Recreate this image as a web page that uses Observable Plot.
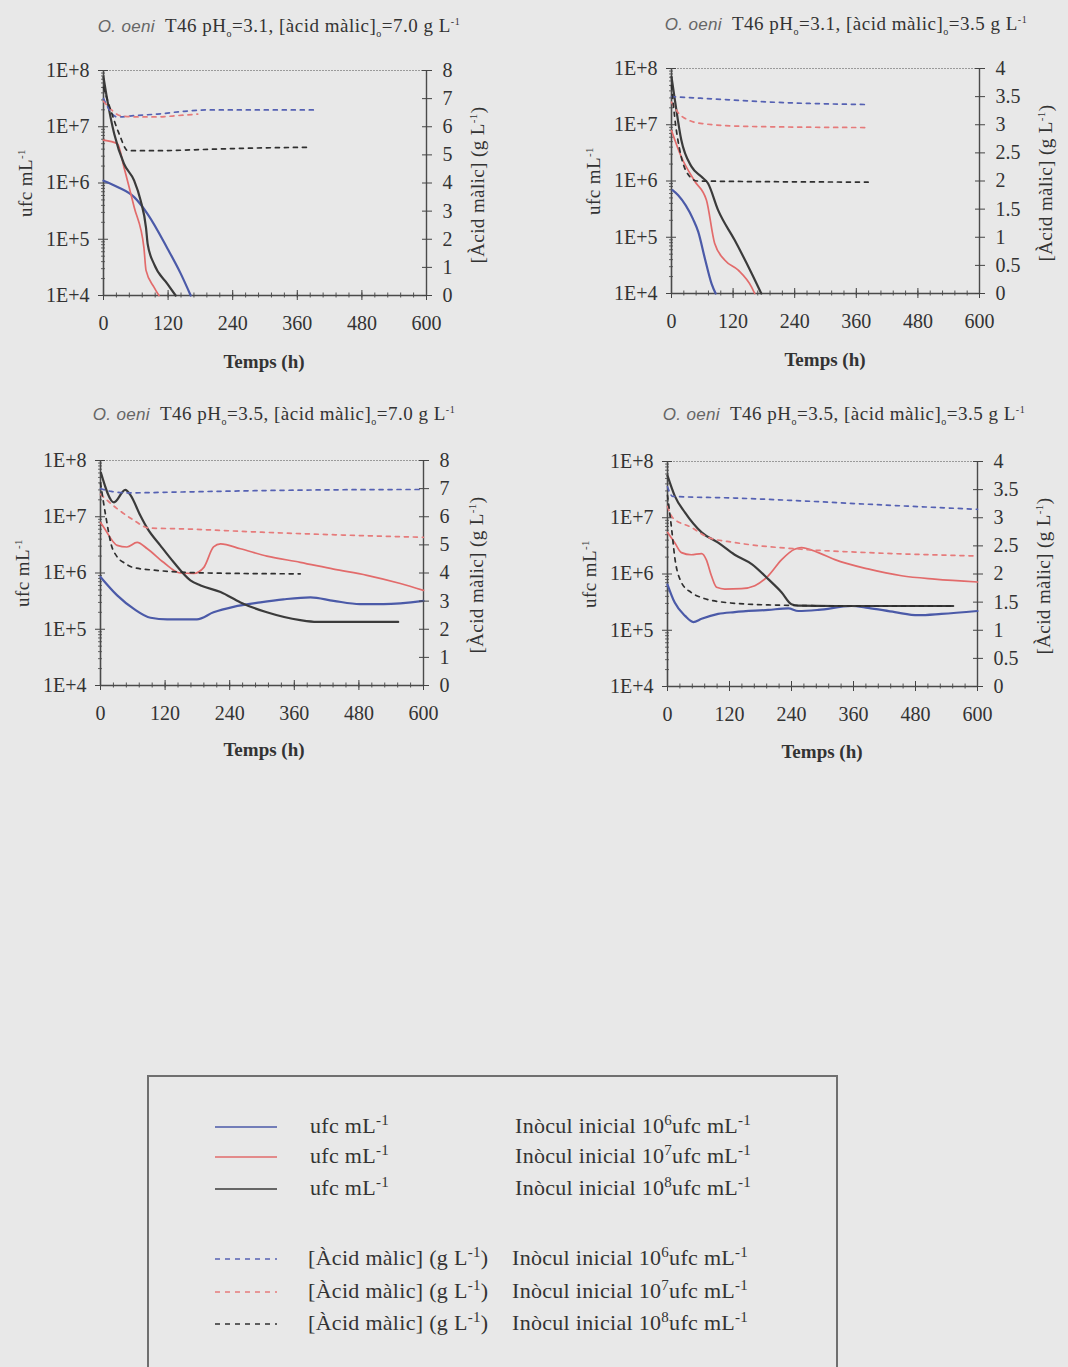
<!DOCTYPE html>
<html><head><meta charset="utf-8">
<script src="https://cdn.jsdelivr.net/npm/d3@7"></script>
<script src="https://cdn.jsdelivr.net/npm/@observablehq/plot@0.6"></script>
<style>
html,body{margin:0;padding:0;background:#e8e8e8;}
#root{position:relative;width:1068px;height:1367px;overflow:hidden;background:#e8e8e8;font-family:"Liberation Serif",serif;color:#333;}
.abs{position:absolute;}
.title{font-size:19px;letter-spacing:0.5px;white-space:nowrap;transform:translate(-50%,-50%);}
.title i{font-family:"Liberation Sans",sans-serif;color:#666;font-size:17px;letter-spacing:0.3px;}
.title sub{font-size:10px;}
.title sup{font-size:10px;}
.ylab{font-size:19px;letter-spacing:0.4px;white-space:nowrap;transform:translate(-50%,-50%) rotate(-90deg);}
.ylab sup{font-size:11px;}
.xlab{font-size:19px;font-weight:bold;white-space:nowrap;transform:translate(-50%,-50%);}
#legend{left:147px;top:1075px;width:687px;height:320px;border:2px solid #6f6f6f;}
.lrow{position:absolute;font-size:22px;white-space:nowrap;letter-spacing:0.3px;transform:translateY(-50%);}
.lrow sup{font-size:15px;vertical-align:0.55em;line-height:0;}
svg{overflow:visible;}
</style>
</head><body><div id="root"></div>
<script>
// ---------------- DATA ----------------
const xTicks = [0, 120, 240, 360, 480, 600];
const ufcTicks = [1e4, 1e5, 1e6, 1e7, 1e8];
const malicTicks8 = [0, 1, 2, 3, 4, 5, 6, 7, 8];
const malicTicks4 = [0, 0.5, 1, 1.5, 2, 2.5, 3, 3.5, 4];

const panelTitles = [
  ["3.1", "7.0"], ["3.1", "3.5"], ["3.5", "7.0"], ["3.5", "3.5"]
];

// Panel 1: pH 3.1, malic 7.0 — ufc mL-1 [t (h), ufc]
const p1UfcBlue  = [[0,1.1e6],[26,8.5e5],[57,5.6e5],[82,2.8e5],[119,6.8e4],[143,2.5e4],[162,1.0e4]];
const p1UfcRed   = [[0,5.8e6],[26,5.0e6],[38,1.9e6],[57,3.7e5],[75,7.2e4],[79,2.8e4],[94,1.4e4],[103,1.0e4]];
const p1UfcBlack = [[0,7.6e7],[7,3.0e7],[20,7.4e6],[38,2.2e6],[57,1.1e6],[69,4.9e5],[79,1.6e5],[82,8.3e4],[94,3.6e4],[119,1.6e4],[134,1.0e4]];
// Panel 1 malic acid [t (h), g L-1]
const p1MalBlue  = [[0,7.0],[25,6.35],[60,6.4],[100,6.45],[150,6.55],[200,6.6],[300,6.6],[390,6.6]];
const p1MalRed   = [[0,6.9],[15,6.6],[30,6.4],[60,6.35],[100,6.35],[140,6.4],[175,6.45]];
const p1MalBlack = [[0,7.4],[15,6.5],[30,5.7],[45,5.15],[100,5.15],[200,5.2],[300,5.25],[385,5.27]];

// Panel 2: pH 3.1, malic 3.5
const p2UfcBlue  = [[2,6.9e5],[13,5.6e5],[42,2.1e5],[52,1.26e5],[65,4.2e4],[78,1.5e4],[86,1.0e4]];
const p2UfcRed   = [[0,7.9e6],[19,2.7e6],[45,1.0e6],[68,4.6e5],[84,7.8e4],[104,3.9e4],[130,2.6e4],[156,1.3e4],[162,1.0e4]];
const p2UfcBlack = [[0,7.1e7],[6.5,2.8e7],[19,5.4e6],[39,1.8e6],[58,1.2e6],[71,9.1e5],[91,3.0e5],[123,8.9e4],[156,2.3e4],[175,1.0e4]];
const p2MalBlue  = [[0,3.5],[100,3.45],[200,3.4],[376,3.36]];
const p2MalRed   = [[0,3.4],[20,3.15],[60,3.02],[150,2.97],[386,2.95]];
const p2MalBlack = [[0,3.7],[8,3.0],[15,2.6],[30,2.15],[50,2.0],[383,1.98]];

// Panel 3: pH 3.5, malic 7.0
const p3UfcBlue  = [[0,8.5e5],[31,4.0e5],[62,2.3e5],[93,1.6e5],[124,1.5e5],[179,1.5e5],[210,2.0e5],[247,2.5e5],[297,3.0e5],[340,3.4e5],[390,3.7e5],[433,3.2e5],[482,2.8e5],[526,2.8e5],[600,3.2e5]];
const p3UfcRed   = [[0,7.9e6],[6,6.5e6],[31,3.1e6],[49,2.9e6],[68,3.5e6],[87,2.7e6],[117,1.55e6],[148,1.0e6],[173,9.8e5],[192,1.26e6],[210,2.9e6],[223,3.3e6],[260,2.7e6],[309,2.0e6],[371,1.55e6],[433,1.17e6],[495,9.1e5],[557,6.5e5],[600,4.9e5]];
const p3UfcBlack = [[1,6.0e7],[25,1.8e7],[46,3.0e7],[56,2.4e7],[74,1.05e7],[87,6.2e6],[111,3.1e6],[136,1.55e6],[167,7.4e5],[186,6.0e5],[223,4.6e5],[260,3.0e5],[309,2.0e5],[371,1.45e5],[402,1.35e5],[553,1.35e5]];
const p3MalBlue  = [[0,7.0],[20,6.9],[50,6.85],[150,6.88],[300,6.93],[450,6.96],[600,6.97]];
const p3MalRed   = [[0,6.8],[30,6.3],[60,5.9],[90,5.6],[150,5.57],[300,5.45],[450,5.35],[600,5.27]];
const p3MalBlack = [[0,7.2],[10,6.0],[20,5.0],[30,4.6],[45,4.35],[60,4.2],[100,4.1],[200,4.0],[371,3.97]];

// Panel 4: pH 3.5, malic 3.5
const p4UfcBlue  = [[0,6.5e5],[14,3.1e5],[34,1.8e5],[50,1.4e5],[66,1.6e5],[98,1.95e5],[130,2.1e5],[195,2.3e5],[234,2.45e5],[253,2.2e5],[292,2.3e5],[356,2.7e5],[388,2.5e5],[440,2.1e5],[485,1.85e5],[530,1.95e5],[600,2.2e5]];
const p4UfcRed   = [[0,5.5e6],[14,3.6e6],[27,2.4e6],[46,2.2e6],[66,2.3e6],[75,1.8e6],[85,9.3e5],[95,5.8e5],[111,5.4e5],[143,5.5e5],[169,6.2e5],[195,9.3e5],[221,1.8e6],[246,2.75e6],[259,2.95e6],[292,2.4e6],[324,1.8e6],[388,1.23e6],[453,9.3e5],[517,8.1e5],[600,7.2e5]];
const p4UfcBlack = [[0,5.6e7],[14,2.45e7],[34,1.23e7],[66,5.5e6],[98,3.6e6],[130,2.2e6],[163,1.5e6],[195,8.1e5],[221,4.7e5],[240,2.9e5],[253,2.75e5],[324,2.7e5],[388,2.7e5],[553,2.7e5]];
const p4MalBlue  = [[0,3.55],[10,3.38],[130,3.35],[259,3.30],[388,3.24],[600,3.15]];
const p4MalRed   = [[0,3.2],[10,3.0],[46,2.83],[79,2.65],[130,2.56],[259,2.44],[388,2.38],[600,2.32]];
const p4MalBlack = [[0,3.4],[8,2.8],[14,2.3],[27,1.85],[46,1.67],[66,1.58],[98,1.51],[195,1.45],[388,1.43],[553,1.43]];

const inocula = ["6", "7", "8"];

// ---------------- STYLE ----------------
const solidColors = ["#4b5aa8", "#e26b6b", "#3b3b3b"];
const dashColors  = ["#5561b3", "#e67b7b", "#2f2f2f"];

const panels = [
  {left:0,   top:50,  ml:103, mr:108, mmax:8, mt:malicTicks8, ufc:[p1UfcBlue,p1UfcRed,p1UfcBlack], mal:[p1MalBlue,p1MalRed,p1MalBlack], tx:279, ty:27,  lx:26,  rx:478,  xl:[264,362]},
  {left:534, top:48,  ml:137, mr:89,  mmax:4, mt:malicTicks4, ufc:[p2UfcBlue,p2UfcRed,p2UfcBlack], mal:[p2MalBlue,p2MalRed,p2MalBlack], tx:846, ty:25,  lx:594, rx:1046, xl:[825,360]},
  {left:0,   top:440, ml:100, mr:111, mmax:8, mt:malicTicks8, ufc:[p3UfcBlue,p3UfcRed,p3UfcBlack], mal:[p3MalBlue,p3MalRed,p3MalBlack], tx:274, ty:415, lx:23,  rx:477,  xl:[264,750]},
  {left:534, top:441, ml:133, mr:91,  mmax:4, mt:malicTicks4, ufc:[p4UfcBlue,p4UfcRed,p4UfcBlack], mal:[p4MalBlue,p4MalRed,p4MalBlack], tx:844, ty:415, lx:590, rx:1044, xl:[822,752]}
];

const W = 534, H = 330, MT = 20, MB = 85;
const root = document.getElementById("root");
const baseStyle = {background:"transparent", fontFamily:"Liberation Serif, serif", fontSize:"20px", color:"#333", overflow:"visible"};
const minorLog = [];
for (let e = 4; e < 8; e++) for (let m = 2; m < 10; m++) minorLog.push(m * 10 ** e);
const minorX = d3.range(0, 601, 24);

function toObj(arr) { return arr.map(([t, v]) => ({t, v})); }

function place(el, left, top) {
  el.style.position = "absolute"; el.style.left = left + "px"; el.style.top = top + "px";
  root.appendChild(el);
}

panels.forEach((p, i) => {
  // ufc plot (log scale, left axis)
  const a = Plot.plot({
    width: W, height: H, marginLeft: p.ml, marginRight: p.mr, marginTop: MT, marginBottom: MB,
    style: baseStyle,
    x: {domain: [0, 600]},
    y: {type: "log", domain: [1e4, 1e8]},
    marks: [
      Plot.ruleY([1e8], {stroke: "#9a9a9a", strokeWidth: 1, strokeDasharray: "2,1"}),
      Plot.axisX({ticks: minorX, tickSize: 2.5, text: null, label: null, stroke: "#555"}),
      Plot.axisX({ticks: minorX, tickSize: -2.5, text: null, label: null, stroke: "#555"}),
      Plot.axisX({ticks: xTicks, tickSize: 5, tickPadding: 15, tickFormat: d => String(d), label: null, stroke: "#444"}),
      Plot.axisX({ticks: xTicks, tickSize: -5, text: null, label: null, stroke: "#444"}),
      Plot.axisY({ticks: minorLog, tickSize: 2, text: null, label: null, stroke: "#666"}),
      Plot.axisY({ticks: minorLog, tickSize: -2, text: null, label: null, stroke: "#666"}),
      Plot.axisY({ticks: ufcTicks, tickSize: 5, tickPadding: 9, tickFormat: d => "1E+" + Math.round(Math.log10(d)), label: null, stroke: "#444"}),
      Plot.axisY({ticks: ufcTicks, tickSize: -5, text: null, label: null, stroke: "#444"}),
      Plot.ruleX([0], {stroke: "#4a4a4a", strokeWidth: 1.6}),
      Plot.ruleX([600], {stroke: "#4a4a4a", strokeWidth: 1.4}),
      Plot.ruleY([1e4], {stroke: "#4a4a4a", strokeWidth: 1.6}),
      ...p.ufc.map((s, k) => Plot.line(toObj(s), {x: "t", y: "v", stroke: solidColors[k], strokeWidth: k === 1 ? 1.7 : 2.2, curve: "monotone-x"}))
    ]
  });
  place(a, p.left, p.top);

  // malic acid plot (linear scale, right axis), overlaid on the same frame
  const b = Plot.plot({
    width: W, height: H, marginLeft: p.ml, marginRight: p.mr, marginTop: MT, marginBottom: MB,
    style: baseStyle,
    x: {domain: [0, 600], axis: null},
    y: {domain: [0, p.mmax], axis: null},
    marks: [
      Plot.axisY({anchor: "right", ticks: p.mt, tickSize: 5, tickPadding: 11, tickFormat: d => String(d), label: null, stroke: "#444"}),
      Plot.axisY({anchor: "right", ticks: p.mt, tickSize: -5, text: null, label: null, stroke: "#444"}),
      ...p.mal.map((s, k) => Plot.line(toObj(s), {x: "t", y: "v", stroke: dashColors[k], strokeWidth: 1.7, strokeDasharray: "4,5", curve: "monotone-x"}))
    ]
  });
  place(b, p.left, p.top);

  // titles and axis labels
  const [ph, ma] = panelTitles[i];
  const t = document.createElement("div");
  t.className = "title";
  t.innerHTML = `<i>O. oeni</i>&nbsp; T46 pH<sub>o</sub>=${ph}, [àcid màlic]<sub>o</sub>=${ma} g L<sup>-1</sup>`;
  place(t, p.tx, p.ty);

  const yl = document.createElement("div");
  yl.className = "ylab";
  yl.innerHTML = `ufc mL<sup>-1</sup>`;
  place(yl, p.lx, p.top + MT + (H - MT - MB) / 2);

  const yr = document.createElement("div");
  yr.className = "ylab";
  yr.innerHTML = `[Àcid màlic] (g L<sup>-1</sup>)`;
  place(yr, p.rx, p.top + MT + (H - MT - MB) / 2 + 2);

  const xl = document.createElement("div");
  xl.className = "xlab";
  xl.textContent = "Temps (h)";
  place(xl, p.xl[0], p.xl[1]);
});

// ---------------- LEGEND ----------------
const legend = document.createElement("div");
legend.id = "legend";
legend.className = "abs";
root.appendChild(legend);

function swatch(color, dashed, y) {
  const svg = d3.create("svg").attr("width", 64).attr("height", 6)
    .style("position", "absolute").style("left", "66px").style("top", (y - 3) + "px");
  svg.append("line").attr("x1", 0).attr("x2", 62).attr("y1", 3).attr("y2", 3)
    .attr("stroke", color).attr("stroke-width", 1.6)
    .attr("stroke-dasharray", dashed ? "5,5" : null);
  legend.appendChild(svg.node());
}
function ltext(html, x, y) {
  const d = document.createElement("div");
  d.className = "lrow"; d.style.left = x + "px"; d.style.top = y + "px";
  d.innerHTML = html; legend.appendChild(d);
}
const solidRows = [50, 80, 112];
const dashRows = [182, 215, 247];
inocula.forEach((e, k) => {
  swatch(solidColors[k], false, solidRows[k]);
  ltext(`ufc mL<sup>-1</sup>`, 161, solidRows[k] - 1);
  ltext(`Inòcul inicial 10<sup>${e}</sup>ufc mL<sup>-1</sup>`, 366, solidRows[k] - 1);
  swatch(dashColors[k], true, dashRows[k]);
  ltext(`[Àcid màlic] (g L<sup>-1</sup>)`, 159, dashRows[k] - 1);
  ltext(`Inòcul inicial 10<sup>${e}</sup>ufc mL<sup>-1</sup>`, 363, dashRows[k] - 1);
});
</script>
</body></html>
